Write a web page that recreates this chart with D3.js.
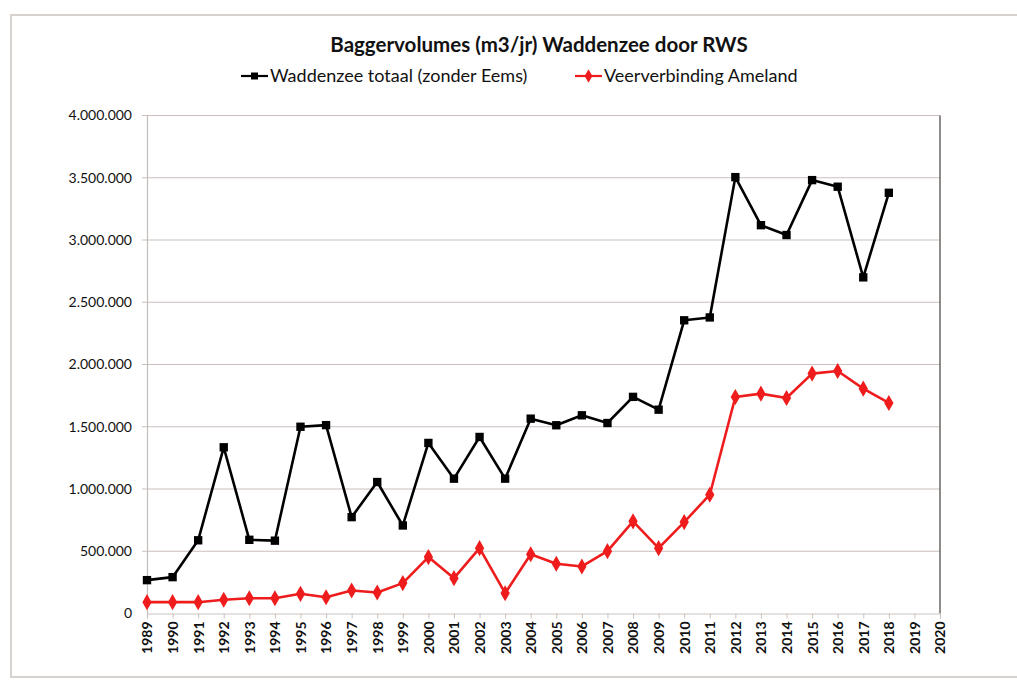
<!DOCTYPE html>
<html>

<head>
    <meta charset="UTF-8">
    <style>
        body { margin: 0; background: #fff; }
        text { font-family: Lato, "Open Sans", sans-serif; fill: #111; }
    </style>
</head>

<body>
    <svg id="chart"></svg>
    <script src="https://d3js.org/d3.v7.min.js"></script>
    <script>

        let width = 1017, height = 691;

        // data
        const years = d3.range(1989, 2021);
        const dataYears = d3.range(1989, 2019);
        const totaal = [268000, 292000, 588000, 1335000, 592000, 585000, 1500000, 1513000, 774000, 1056000,
            707000, 1370000, 1083000, 1418000, 1083000, 1565000, 1512000, 1592000, 1530000, 1740000,
            1637000, 2355000, 2378000, 3505000, 3119000, 3040000, 3481000, 3428000, 2700000, 3379000];
        const ameland = [91000, 91000, 91000, 110000, 123000, 123000, 158000, 131000, 185000, 169000,
            244000, 453000, 284000, 525000, 163000, 476000, 400000, 378000, 501000, 740000,
            525000, 734000, 954000, 1739000, 1766000, 1731000, 1927000, 1948000, 1806000, 1691000];
        const yTicks = [0, 500000, 1000000, 1500000, 2000000, 2500000, 3000000, 3500000, 4000000];

        const series = [
            { name: "Waddenzee totaal (zonder Eems)", values: totaal, color: "#000000", symbol: d3.symbolSquare, size: 70 },
            { name: "Veerverbinding Ameland", values: ameland, color: "#ee1c1c", symbol: d3.symbolDiamond, size: 75 }
        ];

        let svg = d3.select("#chart")
            .attr("width", width)
            .attr("height", height)

        // outer frame
        svg.append("rect")
            .attr("x", 11).attr("y", 15)
            .attr("width", width + 20).attr("height", 662)
            .attr("fill", "none")
            .attr("stroke", "#d8d2ce")
            .attr("stroke-width", 2)

        let margin = { left: 147, right: 940, top: 115.5, bottom: 613.5 };

        let x = d3.scaleLinear()
            .domain([1989, 2020])
            .range([margin.left, margin.right]);

        let y = d3.scaleLinear()
            .domain([0, 4000000])
            .range([margin.bottom, margin.top]);

        let nl = d3.formatLocale({ decimal: ",", thousands: ".", grouping: [3], currency: ["", ""] });
        let fmt = nl.format(",.0f");

        // gridlines
        svg.append("g")
            .selectAll("line")
            .data(yTicks.slice(1))
            .enter()
            .append("line")
            .attr("x1", margin.left - 5).attr("x2", margin.right)
            .attr("y1", d => y(d)).attr("y2", d => y(d))
            .attr("stroke", "#c9bfbb")
            .attr("stroke-width", 1.2)

        // y axis
        let yAxis = svg.append("g")
            .attr("transform", `translate(${margin.left},0)`)
            .call(d3.axisLeft(y).tickValues(yTicks).tickFormat(fmt).tickSize(0).tickPadding(15));
        yAxis.select(".domain").attr("stroke", "#c4bcb8").attr("stroke-width", 1.2);
        yAxis.selectAll("text").attr("font-size", 14).style("font-family", "Lato, 'Open Sans', sans-serif").attr("fill", "#111");

        // right border of plot
        svg.append("line")
            .attr("x1", margin.right).attr("x2", margin.right)
            .attr("y1", margin.top).attr("y2", margin.bottom)
            .attr("stroke", "#6b6663").attr("stroke-width", 1.5)

        // x axis
        let xAxis = svg.append("g")
            .attr("transform", `translate(0,${margin.bottom})`)
            .call(d3.axisBottom(x).tickValues(years).tickFormat(d3.format("d")).tickSize(5).tickPadding(3));
        xAxis.select(".domain").attr("stroke", "#c9c3bf").attr("stroke-width", 1.2);
        xAxis.selectAll(".tick line").attr("stroke", "#c9c3bf");
        xAxis.selectAll("text")
            .attr("transform", "rotate(-90)")
            .attr("text-anchor", "end")
            .attr("x", -8).attr("y", 0).attr("dy", "0.35em")
            .attr("font-size", 14)
            .style("font-family", "Lato, 'Open Sans', sans-serif")
            .attr("font-weight", "bold")
            .attr("fill", "#111");

        // lines and markers
        let line = d3.line()
            .x((d, i) => x(dataYears[i]))
            .y(d => y(d));

        series.forEach(s => {
            svg.append("path")
                .datum(s.values)
                .attr("d", line)
                .attr("fill", "none")
                .attr("stroke", s.color)
                .attr("stroke-width", 2.6)
                .attr("stroke-linejoin", "round")

            svg.append("g")
                .selectAll("path")
                .data(s.values)
                .enter()
                .append("path")
                .attr("d", d3.symbol().type(s.symbol).size(s.size))
                .attr("transform", (d, i) => `translate(${x(dataYears[i])},${y(d)})`)
                .attr("fill", s.color)
        })

        // title
        svg.append("text")
            .attr("x", 539).attr("y", 52)
            .attr("text-anchor", "middle")
            .attr("font-size", 20.5)
            .attr("font-weight", "bold")
            .text("Baggervolumes (m3/jr) Waddenzee door RWS")

        // legend
        let legendPos = [241, 575];
        series.forEach((s, i) => {
            let g = svg.append("g").attr("transform", `translate(${legendPos[i]},76)`);
            g.append("line")
                .attr("x1", 0).attr("x2", 27)
                .attr("stroke", s.color).attr("stroke-width", 2.2)
            g.append("path")
                .attr("d", d3.symbol().type(s.symbol).size(s.size * 0.7))
                .attr("transform", "translate(13.5,0)")
                .attr("fill", s.color)
            g.append("text")
                .attr("x", 29).attr("dy", "0.35em")
                .attr("font-size", 18)
                .text(s.name)
        })

    </script>

</body>

</html>
